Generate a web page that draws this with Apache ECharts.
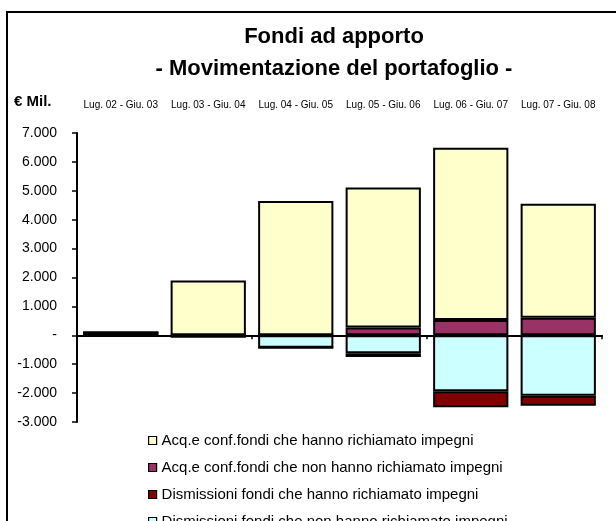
<!DOCTYPE html>
<html>
<head>
<meta charset="utf-8">
<script src="https://cdn.jsdelivr.net/npm/echarts@6/dist/echarts.min.js"></script>
<style>
html,body{margin:0;padding:0;background:#fff;}
#chart{width:616px;height:521px;}
</style>
</head>
<body>
<div id="chart"></div>
<script>
// Data (€ Mil.)
var categories = ['Lug. 02 - Giu. 03','Lug. 03 - Giu. 04','Lug. 04 - Giu. 05','Lug. 05 - Giu. 06','Lug. 06 - Giu. 07','Lug. 07 - Giu. 08'];
var acqHanno    = [100, 1900, 4650, 4840, 5960, 3940];   // Acq.e conf.fondi che hanno richiamato impegni
var acqNonHanno = [0, 0, 0, 270, 530, 610];              // Acq.e conf.fondi che non hanno richiamato impegni
var disHanno    = [0, 0, 0, -130, -550, -350];           // Dismissioni fondi che hanno richiamato impegni
var disNonHanno = [0, -50, -430, -620, -1940, -2090];    // Dismissioni fondi che non hanno richiamato impegni
var seriesNames = [
  'Acq.e conf.fondi che hanno richiamato impegni',
  'Acq.e conf.fondi che non hanno richiamato impegni',
  'Dismissioni fondi che hanno richiamato impegni',
  'Dismissioni fondi che non hanno richiamato impegni'
];
var yMin = -3000, yMax = 7000, yStep = 1000;

var FONT = '"Liberation Sans", Arial, sans-serif';

function fmt(v){
  if (v === 0) return '-';
  var s = Math.abs(v).toString().replace(/\B(?=(\d{3})+(?!\d))/g, '.');
  return (v < 0 ? '-' : '') + s;
}

var border = {borderColor:'#000', borderWidth:2};

var chart = echarts.init(document.getElementById('chart'), null, {renderer:'canvas'});
chart.setOption({
  backgroundColor:'#fff',
  animation:false,
  textStyle:{fontFamily:FONT},
  graphic:[
    {type:'rect', shape:{x:7, y:12, width:700, height:600}, style:{fill:null, stroke:'#000', lineWidth:2}, z:100},
    {type:'text', x:334, y:37, style:{text:'Fondi ad apporto', font:'bold 22px ' + FONT, fill:'#000', textAlign:'center', textVerticalAlign:'middle'}},
    {type:'text', x:334, y:69, style:{text:'- Movimentazione del portafoglio -', font:'bold 22px ' + FONT, fill:'#000', textAlign:'center', textVerticalAlign:'middle'}},
    {type:'text', x:14, y:102, style:{text:'€ Mil.', font:'bold 15px ' + FONT, fill:'#000', textAlign:'left', textVerticalAlign:'middle'}}
  ],
  legend:{
    orient:'vertical',
    left:143, top:428, height:140,
    itemWidth:8, itemHeight:8,
    itemGap:12,
    icon:'rect',
    itemStyle:{borderColor:'#000', borderWidth:1.2},
    textStyle:{fontSize:15, color:'#000', fontFamily:FONT, lineHeight:14},
    data:[seriesNames[0], seriesNames[1], seriesNames[2], seriesNames[3]]
  },
  grid:{left:77, right:14, top:133, bottom:99, containLabel:false},
  xAxis:[
    {type:'category', data:categories, position:'bottom',
     axisLine:{onZero:true, lineStyle:{color:'#000', width:2}},
     axisTick:{show:true, length:4, lineStyle:{color:'#000', width:1.5}},
     axisLabel:{show:false}},
    {type:'category', data:categories, position:'top',
     axisLine:{show:false}, axisTick:{show:false},
     axisLabel:{show:true, fontSize:10, color:'#000', margin:23, interval:0, fontFamily:FONT}}
  ],
  yAxis:{type:'value', min:yMin, max:yMax, interval:yStep,
    axisLine:{show:true, lineStyle:{color:'#000', width:2}},
    axisTick:{show:true, length:5, lineStyle:{color:'#000', width:1.5}},
    splitLine:{show:false},
    axisLabel:{formatter:fmt, fontSize:14, color:'#000', margin:20, fontFamily:FONT}
  },
  series:[
    {name:seriesNames[1], type:'bar', stack:'tot', data:acqNonHanno, barCategoryGap:'14%', itemStyle:Object.assign({color:'#993366'}, border)},
    {name:seriesNames[0], type:'bar', stack:'tot', data:acqHanno, itemStyle:Object.assign({color:'#FFFFCC'}, border)},
    {name:seriesNames[3], type:'bar', stack:'tot', data:disNonHanno, itemStyle:Object.assign({color:'#CCFFFF'}, border)},
    {name:seriesNames[2], type:'bar', stack:'tot', data:disHanno, itemStyle:Object.assign({color:'#800000'}, border)}
  ]
});
</script>
</body>
</html>
